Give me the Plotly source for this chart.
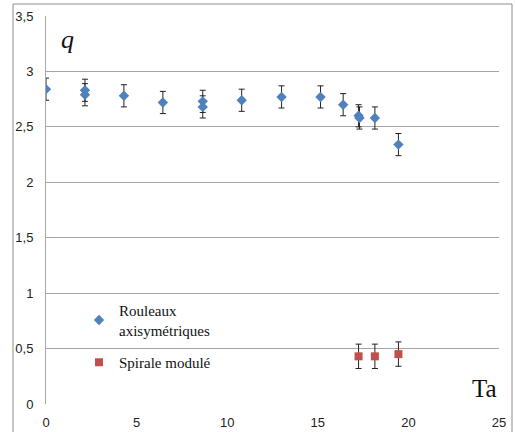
import plotly.graph_objects as go

# Rouleaux axisymétriques
ta_rouleaux = [0.0, 2.15, 2.15, 4.3, 6.45, 8.65, 8.65, 10.8, 13.0, 15.15, 16.4, 17.25, 17.3, 18.15, 19.45]
q_rouleaux = [2.84, 2.83, 2.79, 2.78, 2.72, 2.73, 2.68, 2.74, 2.77, 2.77, 2.70, 2.60, 2.58, 2.58, 2.34]
err_rouleaux = [0.1] * len(q_rouleaux)

# Spirale modulé
ta_spirale = [17.25, 18.15, 19.45]
q_spirale = [0.43, 0.43, 0.45]
err_spirale = [0.11, 0.11, 0.11]

x_ticks = [0, 5, 10, 15, 20, 25]
y_ticks = [0, 0.5, 1, 1.5, 2, 2.5, 3, 3.5]

W, H = 515, 432
L, R, T, B = 46, 16, 16, 28
pw, ph = W - L - R, H - T - B

SANS = "Liberation Sans"
SERIF = "Liberation Serif"


def px_x(p):
    return (p - L) / pw


def px_y(p):
    return (H - B - p) / ph


err_style = dict(type="data", thickness=1, width=3, color="#222222")

fig = go.Figure()
fig.add_trace(go.Scatter(
    x=ta_rouleaux, y=q_rouleaux, mode="markers",
    name="Rouleaux<br>axisymétriques", legendgroup="rouleaux",
    marker=dict(symbol="diamond", size=8, color="#4F81BD"),
    error_y=dict(array=err_rouleaux, **err_style),
))
fig.add_trace(go.Scatter(
    x=ta_spirale, y=q_spirale, mode="markers",
    name="Spirale modulé", legendgroup="spirale",
    marker=dict(symbol="square", size=8, color="#C0504D"),
    error_y=dict(array=err_spirale, **err_style),
))

# outer chart frame
fig.add_shape(type="rect", xref="paper", yref="paper",
              x0=px_x(13), x1=px_x(512), y0=px_y(440), y1=px_y(4),
              line=dict(color="#8c8c8c", width=1), fillcolor="rgba(0,0,0,0)", layer="below")

fig.add_annotation(text="<i>q</i>", xref="paper", yref="paper", x=px_x(67), y=px_y(39),
                   showarrow=False,
                   font=dict(family=SERIF, size=26, color="#111"),
                   xanchor="center", yanchor="middle")
fig.add_annotation(text="Ta", xref="paper", yref="paper", x=px_x(499), y=px_y(404),
                   showarrow=False, font=dict(family=SERIF, size=25, color="#111"),
                   xanchor="right", yanchor="bottom")

fig.update_layout(
    width=W, height=H,
    margin=dict(l=L, r=R, t=T, b=B, autoexpand=False),
    paper_bgcolor="white", plot_bgcolor="white",
    separators=", ",
    showlegend=True,
    legend=dict(x=px_x(79), y=px_y(294), xanchor="left", yanchor="top",
                bgcolor="rgba(0,0,0,0)", traceorder="grouped", tracegroupgap=10,
                font=dict(family=SERIF, size=15, color="#111")),
    font=dict(family=SANS, size=13, color="#222"),
    xaxis=dict(range=[0, 25], tickvals=x_ticks, showgrid=False, zeroline=False,
               showline=False, ticks="", ticklabelstandoff=9),
    yaxis=dict(range=[0, 3.5], tickvals=y_ticks, showgrid=True, gridcolor="#a6a6a6",
               gridwidth=1, zeroline=False, showline=True, linecolor="#a6a6a6",
               ticks="", ticklabelstandoff=9),
)

fig.write_html("out.html")
